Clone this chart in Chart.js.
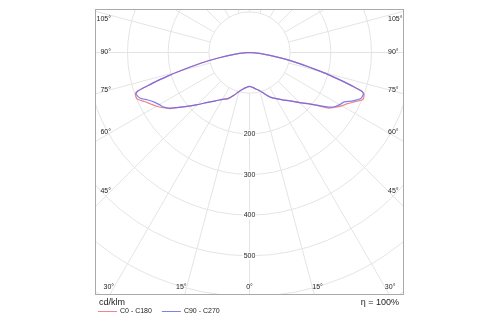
<!DOCTYPE html>
<html>
<head>
<meta charset="utf-8">
<script src="https://cdn.jsdelivr.net/npm/chart.js@4/dist/chart.umd.min.js"></script>
<style>
  html, body { margin: 0; padding: 0; background: #fff; }
</style>
</head>
<body>
<canvas id="ldc" width="500" height="325"></canvas>
<script>
// Luminous intensity distribution, cd/klm per gamma angle (0 = nadir)
const gamma = [0, 5, 10, 15, 20, 25, 30, 35, 40, 45, 50, 55, 57.5, 60, 62.5, 65, 67.5, 70, 71, 72, 73, 74, 75, 77.5, 80, 85, 90];

const c0   = [83, 86, 91, 97, 108, 121, 131, 142, 155, 174, 197, 238, 250, 262, 272, 286, 302, 300, 292, 265, 238, 210, 184, 126, 80, 25, 0];
const c180 = [83, 86, 91, 99, 112, 125, 133, 145, 160, 181, 207, 240, 252, 264, 274, 285, 299, 299, 291, 262, 236, 208, 182, 125, 78, 25, 0];
const c90  = [83, 86, 91, 97, 108, 121, 131, 142, 155, 174, 197, 233, 248, 256, 263, 281, 296, 298, 292, 265, 238, 210, 184, 126, 80, 25, 0];
const c270 = [83, 86, 91, 99, 112, 125, 133, 145, 160, 181, 207, 238, 250, 256, 264, 276, 292, 297, 290, 262, 236, 208, 182, 125, 78, 25, 0];

const seriesNames  = ['C0 - C180', 'C90 - C270'];
const seriesColors = ['rgba(240, 110, 120, 0.85)', 'rgba(105, 105, 235, 0.85)'];

// grid
const rings       = [100, 200, 300, 400, 500, 600, 700];
const ringLabels  = [200, 300, 400, 500];
const angleLabels = [0, 15, 30, 45, 60, 75, 90, 105];
const unitText = 'cd/klm';
const etaText  = '\u03B7 = 100%';

const FONT = '"Liberation Sans", Arial, sans-serif';
const TXT = '#222';

// polar -> x/y, left half gets negative x
function toXY(g, v) {
    const t = g * Math.PI / 180;
    return { x: v * Math.sin(t), y: -v * Math.cos(t) };
}

function outline(left, right) {
    let pts = [];
    for (let i = gamma.length - 1; i >= 0; i--) pts.push(toXY(-gamma[i], left[i]));
    for (let i = 1; i < gamma.length; i++) pts.push(toXY(gamma[i], right[i]));
    return pts;
}

const polarGrid = {
    id: 'polarGrid',
    beforeDatasetsDraw(chart) {
        const { ctx, chartArea: a, scales: { x, y } } = chart;
        const cx = x.getPixelForValue(0), cy = y.getPixelForValue(0);
        const rad = v => x.getPixelForValue(v) - cx;

        ctx.save();
        ctx.beginPath();
        ctx.rect(a.left, a.top, a.right - a.left, a.bottom - a.top);
        ctx.clip();
        ctx.strokeStyle = '#e4e4e4';
        ctx.lineWidth = 1;

        rings.forEach(v => {
            ctx.beginPath();
            ctx.arc(cx, cy, rad(v), 0, Math.PI * 2);
            ctx.stroke();
        });

        // spokes every 15 deg, from the first ring outwards
        const r0 = rad(rings[0]), r1 = rad(1000);
        for (let g = 0; g < 360; g += 15) {
            const t = g * Math.PI / 180;
            const dx = Math.sin(t), dy = Math.cos(t);
            ctx.beginPath();
            ctx.moveTo(cx + dx * r0, cy + dy * r0);
            ctx.lineTo(cx + dx * r1, cy + dy * r1);
            ctx.stroke();
        }

        // intensity values down the 0 deg spoke
        ctx.font = '7px ' + FONT;
        ctx.textAlign = 'center';
        ctx.textBaseline = 'middle';
        ringLabels.forEach(v => {
            const ty = y.getPixelForValue(-v);
            const w = ctx.measureText(String(v)).width;
            ctx.fillStyle = '#fff';
            ctx.fillRect(cx - w / 2 - 1, ty - 4, w + 2, 8);
            ctx.fillStyle = TXT;
            ctx.fillText(String(v), cx, ty);
        });
        ctx.restore();
    },
    afterDraw(chart) {
        const { ctx, chartArea: a, scales: { x, y } } = chart;
        const cx = x.getPixelForValue(0), cy = y.getPixelForValue(0);

        ctx.save();
        // frame
        ctx.strokeStyle = '#aaaaaa';
        ctx.lineWidth = 1;
        ctx.strokeRect(a.left + 0.5, a.top + 0.5, a.right - a.left - 1, a.bottom - a.top - 1);

        // angle labels sit at the end of their spoke
        ctx.font = '7px ' + FONT;
        ctx.fillStyle = TXT;
        ctx.textBaseline = 'middle';
        const maxDx = (a.right - a.left) / 2 - 16;
        const maxDy = a.bottom - cy - 8;
        angleLabels.forEach(g => {
            const t = g * Math.PI / 180;
            const s = Math.sin(t), c = Math.cos(t);
            let k = Infinity;
            if (s > 1e-6) k = Math.min(k, maxDx / s);
            if (c > 1e-6) k = Math.min(k, maxDy / c);
            const dx = s * k;
            let ty = cy + c * k;
            ty = Math.max(ty, a.top + 10);
            const txt = g + '\u00B0';
            if (g === 0) {
                ctx.textAlign = 'center';
                ctx.fillText(txt, cx, ty);
            } else {
                ctx.textAlign = 'right';
                ctx.fillText(txt, cx - dx, ty);
                ctx.textAlign = 'left';
                ctx.fillText(txt, cx + dx, ty);
            }
        });

        // unit, efficiency and legend under the frame
        ctx.font = '9px ' + FONT;
        ctx.textAlign = 'left';
        ctx.fillText(unitText, a.left + 4, a.bottom + 8);
        ctx.textAlign = 'right';
        ctx.fillText(etaText, a.right - 5, a.bottom + 8);

        ctx.font = '7px ' + FONT;
        ctx.textAlign = 'left';
        let lx = a.left + 3;
        const ly = a.bottom + 16.5;
        seriesNames.forEach((name, i) => {
            ctx.strokeStyle = seriesColors[i];
            ctx.beginPath();
            ctx.moveTo(lx, ly);
            ctx.lineTo(lx + 19, ly);
            ctx.stroke();
            ctx.fillText(name, lx + 22, ly);
            lx += 22 + ctx.measureText(name).width + 10;
        });
        ctx.restore();
    }
};

const ldcData = {
    datasets: [
        {
            label: seriesNames[1],
            data: outline(c270, c90),
            borderColor: seriesColors[1]
        }, {
            label: seriesNames[0],
            data: outline(c180, c0),
            borderColor: seriesColors[0]
        }
    ]
};
ldcData.datasets.forEach(d => {
    d.showLine = true;
    d.pointRadius = 0;
    d.borderWidth = 1.2;
    d.tension = 0.2;
    d.fill = false;
});

const ldcChart = new Chart(document.getElementById('ldc'), {
    type: 'scatter',
    data: ldcData,
    options: {
        responsive: false,
        animation: false,
        devicePixelRatio: 1,
        layout: { padding: { left: 95, right: 96, top: 9, bottom: 30 } },
        plugins: {
            legend: { display: false },
            tooltip: { enabled: false }
        },
        scales: {
            x: { type: 'linear', min: -380, max: 380, display: false },
            y: { type: 'linear', min: -596, max: 107, display: false }
        }
    },
    plugins: [polarGrid]
});
</script>
</body>
</html>
